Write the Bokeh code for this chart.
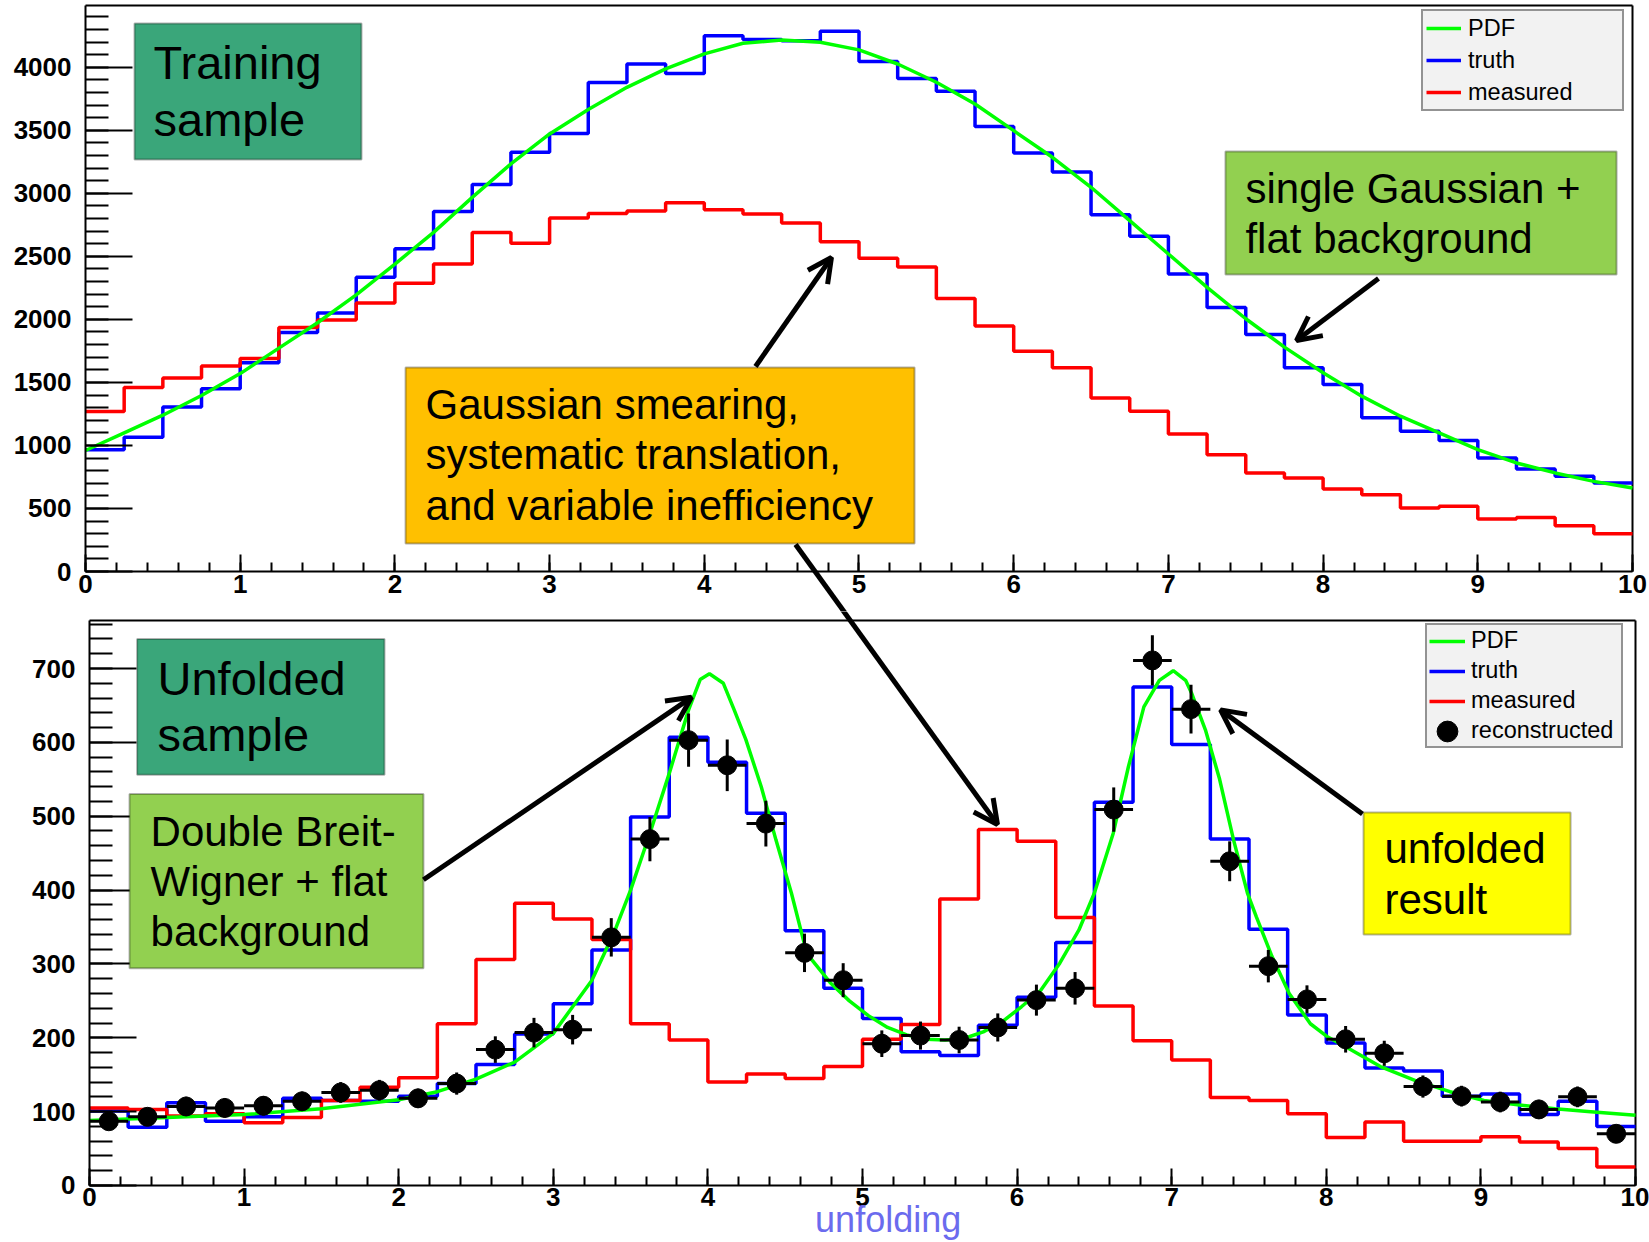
import numpy as np
from bokeh.plotting import figure
from bokeh.models import (Range1d, SingleIntervalTicker, Legend, LegendItem,
                          BoxAnnotation, Label, Arrow, OpenHead)
from bokeh.layouts import column
from bokeh.embed import file_html
from bokeh.resources import INLINE

FONT = "Liberation Sans"

# ---------------- binning shared by both panels ----------------
BIN_W = 0.25
bin_edges = np.arange(41) * BIN_W            # 0.00 ... 10.00
bin_centers = bin_edges[:-1] + BIN_W / 2

# ---------------- training sample (upper panel) ----------------
train_truth = [965, 1065, 1305, 1450, 1655, 1895, 2050, 2335, 2560, 2855,
               3070, 3325, 3475, 3880, 4025, 3950, 4250, 4220, 4210, 4285,
               4045, 3910, 3810, 3530, 3320, 3170, 2830, 2660, 2360, 2095,
               1881, 1616, 1484, 1219, 1113, 1039, 901, 813, 755, 702]
train_measured = [1270, 1460, 1535, 1630, 1690, 1935, 1995, 2130, 2286, 2439,
                  2690, 2603, 2804, 2840, 2860, 2925, 2870, 2835, 2765, 2615,
                  2485, 2415, 2165, 1947, 1748, 1616, 1377, 1272, 1091, 927,
                  782, 742, 654, 609, 503, 517, 416, 429, 363, 299]
train_pdf_x = [0.0, 0.25, 0.5, 0.75, 1.0, 1.25, 1.5, 1.75, 2.0, 2.25,
               2.5, 2.75, 3.0, 3.25, 3.5, 3.75, 4.0, 4.25, 4.5, 4.75,
               5.0, 5.25, 5.5, 5.75, 6.0, 6.25, 6.5, 6.75, 7.0, 7.25,
               7.5, 7.75, 8.0, 8.25, 8.5, 8.75, 9.0, 9.25, 9.5, 9.75, 10.0]
train_pdf_y = [960, 1100, 1240, 1396, 1570, 1772, 1973, 2195, 2439, 2690,
               2968, 3233, 3471, 3665, 3841, 3987, 4106, 4190, 4217, 4198,
               4138, 4026, 3881, 3709, 3497, 3286, 3048, 2783, 2519, 2254,
               2005, 1780, 1576, 1391, 1232, 1099, 967, 861, 782, 715, 662]

# ---------------- unfolded sample (lower panel) ----------------
unf_truth = [101, 79, 112, 87, 93, 118, 115, 114, 121, 138,
             164, 205, 246, 319, 499, 607, 573, 504, 345, 267,
             226, 181, 176, 217, 255, 329, 519, 675, 597, 469,
             347, 231, 193, 159, 155, 121, 124, 96, 114, 80]
unf_measured = [105, 103, 94, 97, 85, 92, 115, 133, 146, 219,
                306, 382, 361, 333, 219, 197, 140, 151, 145, 161,
                198, 218, 388, 482, 466, 363, 243, 196, 170, 119,
                115, 97, 65, 86, 60, 60, 66, 59, 50, 25]
unf_reco = [87, 93, 107, 105, 108, 114, 126, 129, 118, 138,
            184, 207, 211, 336, 469, 603, 569, 490, 315, 278,
            192, 203, 197, 214, 251, 267, 509, 711, 645, 439,
            297, 252, 198, 179, 134, 121, 113, 103, 120, 70]
unf_reco_err = [12, 12, 13, 13, 13, 13, 14, 14, 13, 15,
                18, 20, 20, 26, 30, 36, 35, 31, 26, 23,
                18, 19, 18, 19, 21, 22, 30, 34, 33, 27,
                22, 19, 18, 17, 15, 14, 14, 13, 14, 11]
unf_pdf_x = [0.0, 0.5, 1.0, 1.5, 2.0, 2.25, 2.5, 2.75, 3.0, 3.25,
             3.4, 3.5, 3.625, 3.75, 3.875, 3.95, 4.01, 4.1, 4.17, 4.245,
             4.345, 4.44, 4.54, 4.64, 4.79, 4.915, 5.038, 5.162, 5.286, 5.41,
             5.534, 5.657, 5.781, 5.905, 6.028, 6.152, 6.276, 6.4, 6.5, 6.622,
             6.72, 6.82, 6.92, 7.01, 7.09, 7.128, 7.218, 7.31, 7.40, 7.49,
             7.547, 7.649, 7.76, 7.897, 8.01, 8.125, 8.35, 8.577, 8.80, 9.02,
             9.25, 9.48, 9.71, 10.0]
unf_pdf_y = [88, 92, 96, 104, 116, 127, 144, 167, 206, 278,
             346, 400, 477, 558, 644, 685, 693, 680, 644, 604,
             540, 468, 396, 314, 275, 250, 230, 214, 204, 198,
             197, 199, 208, 222, 242, 264, 301, 346, 396, 477,
             567, 648, 684, 697, 684, 667, 617, 550, 468, 396,
             364, 310, 260, 219, 201, 188, 161, 142, 127, 115,
             109, 104, 100, 95]

TOP_YMAX = 4490
BOT_YMAX = 765


def step_y(vals):
    return list(vals) + [vals[-1]]


def style_axes(p, y_interval, y_top):
    """ROOT-like frame: axes pinned at x = 0 / y = 0, ticks pointing inward."""
    p.xaxis.ticker = SingleIntervalTicker(interval=1, num_minor_ticks=5)
    p.yaxis.ticker = SingleIntervalTicker(interval=y_interval, num_minor_ticks=5)
    for ax in (p.xaxis[0], p.yaxis[0]):
        ax.fixed_location = 0
        ax.axis_line_width = 2
        ax.axis_line_color = "black"
        ax.major_tick_line_width = 2
        ax.minor_tick_line_width = 2
        ax.major_tick_line_color = "black"
        ax.minor_tick_line_color = "black"
        ax.major_tick_out = 0
        ax.minor_tick_out = 0
        ax.major_label_text_font = FONT
        ax.major_label_text_font_style = "bold"
        ax.major_label_text_font_size = "26px"
        ax.major_label_text_color = "black"
    p.xaxis.bounds = (0, 10)
    p.yaxis.bounds = (0, y_top)
    p.yaxis.major_tick_in = 47
    p.yaxis.minor_tick_in = 23
    p.xaxis.major_tick_in = 17
    p.xaxis.minor_tick_in = 9
    p.yaxis.major_label_standoff = 14
    p.xaxis.major_label_standoff = 3
    p.xgrid.visible = False
    p.ygrid.visible = False
    p.outline_line_color = None
    p.background_fill_color = "white"
    p.border_fill_color = "white"
    # upper and right edges of the histogram frame
    p.segment(x0=[0, 10], y0=[y_top, 0], x1=[10, 10], y1=[y_top, y_top],
              line_color="black", line_width=2)


def note_box(p, left, right, top, bottom, color):
    p.add_layout(BoxAnnotation(left=left, right=right, top=top, bottom=bottom,
                               fill_color=color, fill_alpha=1.0,
                               line_color="black", line_width=2,
                               level="annotation"))


def note_text(p, x, y, text, size, color="black", align="left"):
    p.add_layout(Label(x=x, y=y, text=text, text_font=FONT,
                       text_font_size=size, text_color=color,
                       text_align=align, text_baseline="alphabetic",
                       level="overlay"))


def pointer(p, xs, ys, xe, ye, head=True):
    p.add_layout(Arrow(x_start=xs, y_start=ys, x_end=xe, y_end=ye,
                       line_width=5, line_color="black",
                       end=OpenHead(size=24, line_width=5, line_color="black") if head else None,
                       level="overlay"))


def make_legend(items, loc, padding, spacing, glyph_w, glyph_h, label_w, standoff):
    return Legend(items=items, location=loc,
                  padding=padding, spacing=spacing,
                  glyph_width=glyph_w, glyph_height=glyph_h, label_height=glyph_h,
                  label_width=label_w, label_standoff=standoff,
                  label_text_font=FONT, label_text_font_size="23.5px",
                  label_text_color="black", label_text_baseline="middle",
                  background_fill_color="#f2f2f2", background_fill_alpha=1.0,
                  border_line_color="#333333", border_line_width=2)


# ======================= upper panel =======================
top = figure(width=1649, height=611, output_backend="svg", toolbar_location=None,
             x_range=Range1d(-0.54945, 10.10989), y_range=Range1d(-317.3, 4529.6),
             min_border_left=0, min_border_right=0,
             min_border_top=0, min_border_bottom=0)
style_axes(top, 500, TOP_YMAX)

r_truth_t = top.step(x=bin_edges, y=step_y(train_truth), mode="after",
                     line_color="#0000ff", line_width=3.5)
r_meas_t = top.step(x=bin_edges, y=step_y(train_measured), mode="after",
                    line_color="#ff0000", line_width=3.5)
r_pdf_t = top.line(x=train_pdf_x, y=train_pdf_y, line_color="#00ff00", line_width=3.5)

top.add_layout(make_legend([LegendItem(label="PDF", renderers=[r_pdf_t]),
                            LegendItem(label="truth", renderers=[r_truth_t]),
                            LegendItem(label="measured", renderers=[r_meas_t])],
                           loc=(1421, 500), padding=3, spacing=4, glyph_w=35, glyph_h=28,
                           label_w=151, standoff=7))

note_box(top, 0.317, 1.784, 4347, 3268, "#3aa67a")
note_text(top, 0.44, 4038, "Training", "47px")
note_text(top, 0.44, 3586, "sample", "47px")

note_box(top, 7.369, 9.897, 3332, 2356, "#92d050")
note_text(top, 7.498, 3041, "single Gaussian +", "42px")
note_text(top, 7.498, 2644, "flat background", "42px")

note_box(top, 2.069, 5.359, 1618, 222, "#ffc000")
note_text(top, 2.198, 1322, "Gaussian smearing,", "42px")
note_text(top, 2.198, 926, "systematic translation,", "42px")
note_text(top, 2.198, 521, "and variable inefficiency", "42px")

pointer(top, 4.331, 1626, 4.822, 2491)
pointer(top, 8.358, 2324, 7.828, 1832)
# first leg of the pointer that runs down into the lower panel
pointer(top, 4.590, 214, 5.038, -547, head=False)

# ======================= lower panel =======================
bot = figure(width=1649, height=631, output_backend="svg", toolbar_location=None,
             x_range=Range1d(-0.57568, 10.09056), y_range=Range1d(-77.18, 777.2),
             min_border_left=0, min_border_right=0,
             min_border_top=0, min_border_bottom=0)
style_axes(bot, 100, BOT_YMAX)

r_truth_b = bot.step(x=bin_edges, y=step_y(unf_truth), mode="after",
                     line_color="#0000ff", line_width=3.5)
r_meas_b = bot.step(x=bin_edges, y=step_y(unf_measured), mode="after",
                    line_color="#ff0000", line_width=3.5)
r_pdf_b = bot.line(x=unf_pdf_x, y=unf_pdf_y, line_color="#00ff00", line_width=3.5)

reco = np.array(unf_reco, dtype=float)
err = np.array(unf_reco_err, dtype=float)
bot.segment(x0=bin_centers, y0=reco - err, x1=bin_centers, y1=reco + err,
            line_color="black", line_width=3)
bot.segment(x0=bin_centers - BIN_W / 2, y0=reco, x1=bin_centers + BIN_W / 2, y1=reco,
            line_color="black", line_width=3)
r_reco = bot.ellipse(x=bin_centers, y=reco, width=19, height=19,
                     width_units="screen", height_units="screen",
                     fill_color="black", line_color="black")

bot.add_layout(make_legend([LegendItem(label="PDF", renderers=[r_pdf_b]),
                            LegendItem(label="truth", renderers=[r_truth_b]),
                            LegendItem(label="measured", renderers=[r_meas_b]),
                            LegendItem(label="reconstructed", renderers=[r_reco])],
                           loc=(1425, 494), padding=2, spacing=3, glyph_w=36, glyph_h=26,
                           label_w=148, standoff=6))

note_box(bot, 0.308, 1.908, 740, 556, "#3aa67a")
note_text(bot, 0.44, 687, "Unfolded", "47px")
note_text(bot, 0.44, 610, "sample", "47px")

note_box(bot, 0.259, 2.160, 530, 294, "#92d050")
note_text(bot, 0.395, 479, "Double Breit-", "42px")
note_text(bot, 0.395, 411, "Wigner + flat", "42px")
note_text(bot, 0.395, 344, "background", "42px")

note_box(bot, 8.241, 9.580, 505, 340, "#ffff00")
note_text(bot, 8.376, 456, "unfolded", "42px")
note_text(bot, 8.376, 387, "result", "42px")

# second leg of the pointer coming down from the upper panel
pointer(bot, 4.781, 805.6, 5.873, 488.8)
pointer(bot, 2.160, 414, 3.894, 661)
pointer(bot, 8.234, 503, 7.316, 644)

# x-axis title
note_text(bot, 5.166, -46, "unfolding", "36px", color="#6b6bee", align="center")

page = column(top, bot, spacing=0)
open("out.html", "w").write(file_html(page, INLINE))
